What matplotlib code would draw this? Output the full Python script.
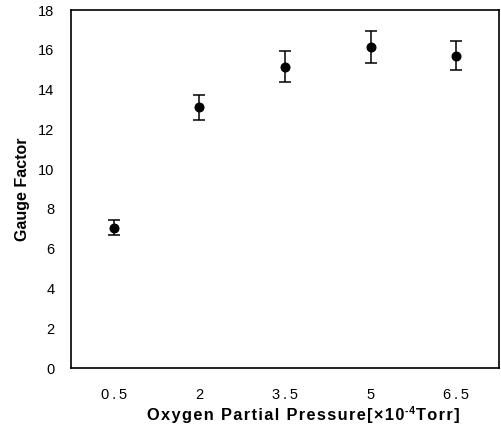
import numpy as np
import matplotlib
matplotlib.use("Agg")
import matplotlib.pyplot as plt
from matplotlib.transforms import IdentityTransform

plt.rcParams['font.family'] = ['Liberation Sans', 'DejaVu Sans']

# valores
pressoes = ["0.5", "2", "3.5", "5", "6.5"]
gauge = [7.05, 13.1, 15.15, 16.15, 15.7]
erro = [0.38, 0.64, 0.77, 0.8, 0.74]

fig = plt.figure(figsize=(5.01, 4.26), dpi=100)
ax = fig.add_axes([0.1417, 0.136, 0.8543, 0.8405])

x = np.arange(len(pressoes))
ax.errorbar(x, gauge, yerr=erro, fmt="o", color="black", markersize=6.2,
            elinewidth=1.1, capsize=4, capthick=1.1)

ax.set_xlim(-0.5, len(pressoes) - 0.5)
ax.set_ylim(0, 18)
ax.set_yticks(range(0, 19, 2))
ax.set_xticks(x)
ax.set_xticklabels(["\u2009".join(p) for p in pressoes])
ax.tick_params(length=0, labelsize=10.5)
ax.tick_params(axis="x", pad=14)
ax.tick_params(axis="y", pad=12)
for s in ax.spines.values():
    s.set_linewidth(1.2)

ax.set_ylabel("Gauge Factor", fontsize=11.5, fontweight="bold", labelpad=6)

# rotulo x montado em pedacos (texto espacado + expoente)
partes = [("Oxygen Partial Pressure[\u00d710", 11.8, 0),
          ("-4", 7.5, 6),
          ("Torr]", 11.8, 0)]
textos = []
for s, tam, dy in partes:
    t = fig.text(0, 6 + dy, "\u200a".join(s) + "\u200a", transform=IdentityTransform(),
                 fontsize=tam, fontweight="bold", va="baseline", ha="left")
    textos.append(t)
renderer = fig.canvas.get_renderer()
larguras = [t.get_window_extent(renderer).width for t in textos]
x0 = 304 - sum(larguras) / 2
for t, w in zip(textos, larguras):
    t.set_x(x0)
    x0 += w

fig.savefig("out.png", dpi=100)
